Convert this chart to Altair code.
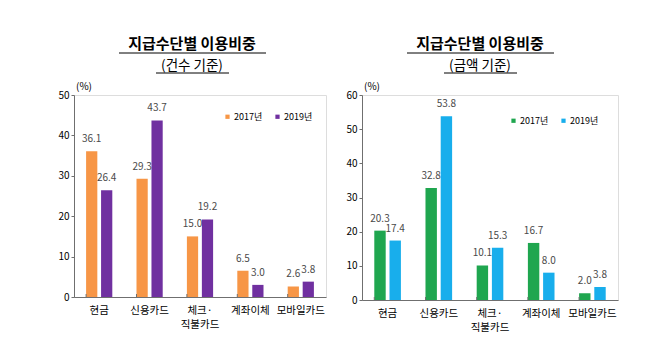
import altair as alt
import pandas as pd

categories = ["현금", "신용카드", "체크·직불카드", "계좌이체", "모바일카드"]
years = ["2017년", "2019년"]
count_2017 = [36.1, 29.3, 15.0, 6.5, 2.6]
count_2019 = [26.4, 43.7, 19.2, 3.0, 3.8]
amount_2017 = [20.3, 32.8, 10.1, 16.7, 2.0]
amount_2019 = [17.4, 53.8, 15.3, 8.0, 3.8]

main_title = "지급수단별  이용비중"
sub_left = "(건수  기준)"
sub_right = "(금액  기준)"
unit_label = "(%)"

FONT = "Noto Sans CJK KR"


def long_df(v17, v19):
    rows = []
    for c, a, b in zip(categories, v17, v19):
        rows.append({"cat": c, "year": years[0], "val": a})
        rows.append({"cat": c, "year": years[1], "val": b})
    return pd.DataFrame(rows)


def panel(v17, v19, colors, subtitle, ymax, width, height, legx, legy):
    df = long_df(v17, v19)
    label_expr = "datum.label == '체크·직불카드' ? ['체크·', '직불카드'] : datum.label"
    x = alt.X(
        "cat:N",
        sort=categories,
        scale=alt.Scale(paddingInner=0.48, paddingOuter=0.24),
        axis=alt.Axis(
            title=None,
            labelAngle=0,
            labelExpr=label_expr,
            labelFont=FONT,
            labelFontSize=10.5,
            labelColor="black",
            labelPadding=8,
            labelLineHeight=14,
            ticks=False,
            domainColor="#6f6f6f",
        ),
    )
    xo = alt.XOffset("year:N", sort=years, scale=alt.Scale(paddingInner=0.25))
    y = alt.Y(
        "val:Q",
        scale=alt.Scale(domain=[0, ymax], nice=False),
        axis=alt.Axis(
            title=None,
            values=list(range(0, ymax + 1, 10)),
            grid=False,
            labelFont=FONT,
            labelFontSize=10,
            labelColor="black",
            labelPadding=2,
            tickSize=3,
            tickColor="#6f6f6f",
            domainColor="#6f6f6f",
        ),
    )
    base = alt.Chart(df)
    bars = base.mark_bar().encode(
        x=x,
        xOffset=xo,
        y=y,
        color=alt.Color(
            "year:N",
            sort=years,
            scale=alt.Scale(domain=years, range=colors),
            legend=alt.Legend(
                title=None,
                orient="none",
                legendX=legx,
                legendY=legy,
                direction="horizontal",
                symbolType="square",
                symbolSize=18,
                symbolStrokeWidth=0,
                labelFont=FONT,
                labelFontSize=9,
                labelColor="black",
                labelOffset=2,
                columnPadding=10,
                padding=0,
            ),
        ),
    )
    labels = base.mark_text(
        dy=-7, baseline="bottom", font=FONT, fontSize=10, color="#4a4a4a"
    ).encode(x=x, xOffset=xo, y=y, text=alt.Text("val:Q", format=".1f"))
    ticks = (
        base.transform_filter(alt.datum.year == years[0])
        .mark_rule(color="#6f6f6f")
        .encode(
            x=alt.X("cat:N", sort=categories, bandPosition=0),
            y=alt.value(height - 3),
            y2=alt.value(height),
        )
    )
    one = pd.DataFrame({"t": [main_title]})
    two = pd.DataFrame({"t": [subtitle]})
    three = pd.DataFrame({"t": [unit_label]})
    t1 = alt.Chart(one).mark_text(
        font=FONT, fontSize=15, fontWeight="bold", color="black", align="center", baseline="middle"
    ).encode(text="t:N", x=alt.value(118), y=alt.value(-51))
    t2 = alt.Chart(two).mark_text(
        font=FONT, fontSize=13.5, color="black", align="center", baseline="middle"
    ).encode(text="t:N", x=alt.value(118), y=alt.value(-29))
    t3 = alt.Chart(three).mark_text(
        font=FONT, fontSize=10, color="black", align="center", baseline="middle"
    ).encode(text="t:N", x=alt.value(10), y=alt.value(-8))
    u1 = alt.Chart(one).mark_rule(color="black", strokeWidth=1).encode(
        x=alt.value(45), x2=alt.value(192), y=alt.value(-42)
    )
    u2 = alt.Chart(two).mark_rule(color="black", strokeWidth=1).encode(
        x=alt.value(82), x2=alt.value(155), y=alt.value(-22)
    )
    return alt.layer(bars, labels, ticks, t1, t2, t3, u1, u2).properties(
        width=width, height=height
    ).resolve_scale(color="independent")


left = panel(count_2017, count_2019, ["#F79646", "#7030A0"], sub_left, 50, 252, 202, 149, 17)
right = panel(amount_2017, amount_2019, ["#1FA64F", "#18AEEC"], sub_right, 60, 256, 205, 147, 21)

chart = (
    alt.hconcat(left, right, spacing=18)
    .resolve_scale(color="independent", x="independent", y="independent", xOffset="independent")
    .resolve_legend(color="independent")
    .properties(padding={"left": 57, "top": 36, "right": 5, "bottom": 5})
    .configure_view(stroke="#7f7f7f", strokeWidth=1)
    .configure(background="white")
)

chart.save("out.html", embed_options={"renderer": "svg", "actions": False})
